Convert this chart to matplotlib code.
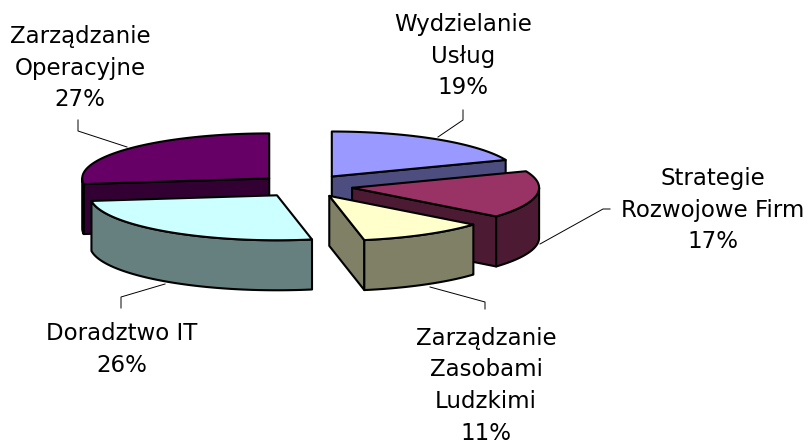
import numpy as np
import matplotlib
matplotlib.use("Agg")
import matplotlib.pyplot as plt
from matplotlib.patches import Polygon

# clockwise from 12 o'clock
labels = ["Wydzielanie\nUsług", "Strategie\nRozwojowe Firm", "Zarządzanie\nZasobami\nLudzkimi",
          "Doradztwo IT", "Zarządzanie\nOperacyjne"]
values = [19, 17, 11, 26, 27]
top_colors = ["#9999FF", "#993366", "#FFFFCC", "#CCFFFF", "#660066"]
side_colors = ["#4D4D80", "#4D1A33", "#808066", "#668080", "#330033"]
draw_order = [4, 0, 1, 2, 3]

label_pos = [(463, 56), (713, 210), (486, 386), (122, 349), (80, 68)]
leaders = [
    [(463, 110), (463, 120), (438, 137)],
    [(610, 209), (603, 209), (540, 244)],
    [(485, 309), (485, 302), (430, 287)],
    [(121, 308), (121, 297), (165, 284)],
    [(78, 120), (78, 131), (127, 147)],
]

cx, cy = 305, 186
rx, ry = 187, 45
depth = 50
explode = 0.255

fig = plt.figure(figsize=(8.12, 4.45), dpi=100)
ax = fig.add_axes([0, 0, 1, 1])
ax.set_xlim(0, 812)
ax.set_ylim(445, 0)
ax.axis("off")


def rim(x0, y0, a, b):
    t = np.radians(np.linspace(a, b, 80))
    return np.column_stack([x0 + rx * np.sin(t), y0 - ry * np.cos(t)])


def wall(points, color, z):
    lower = points[::-1] + np.array([0, depth])
    ax.add_patch(Polygon(np.vstack([points, lower]), closed=True, fc=color, ec="black",
                         lw=1.5, joinstyle="round", zorder=z))


edges = np.cumsum([0] + values) / sum(values) * 360
for n, i in enumerate(draw_order):
    a, b = edges[i], edges[i + 1]
    mid = np.radians((a + b) / 2)
    x0 = cx + explode * rx * np.sin(mid)
    y0 = cy - explode * ry * np.cos(mid)
    apex = np.array([[x0, y0]])
    z = 2 + n
    arc = rim(x0, y0, a, b)

    if np.sin(np.radians(a)) < 0:
        wall(np.vstack([apex, arc[:1]]), side_colors[i], z)
    if np.sin(np.radians(b)) > 0:
        wall(np.vstack([apex, arc[-1:]]), side_colors[i], z)
    lo, hi = max(a, 90), min(b, 270)
    if lo < hi:
        wall(rim(x0, y0, lo, hi), side_colors[i], z)
    ax.add_patch(Polygon(np.vstack([apex, arc]), closed=True, fc=top_colors[i], ec="black",
                         lw=1.5, joinstyle="round", zorder=z))

for pts in leaders:
    xs, ys = zip(*pts)
    ax.plot(xs, ys, color="black", lw=0.7, zorder=1)

for lab, val, pos in zip(labels, values, label_pos):
    ax.text(pos[0], pos[1], f"{lab}\n{val}%", ha="center", va="center", fontsize=16.5,
            family="DejaVu Sans", linespacing=1.5, color="black", zorder=10)

fig.savefig("out.png", dpi=100)
